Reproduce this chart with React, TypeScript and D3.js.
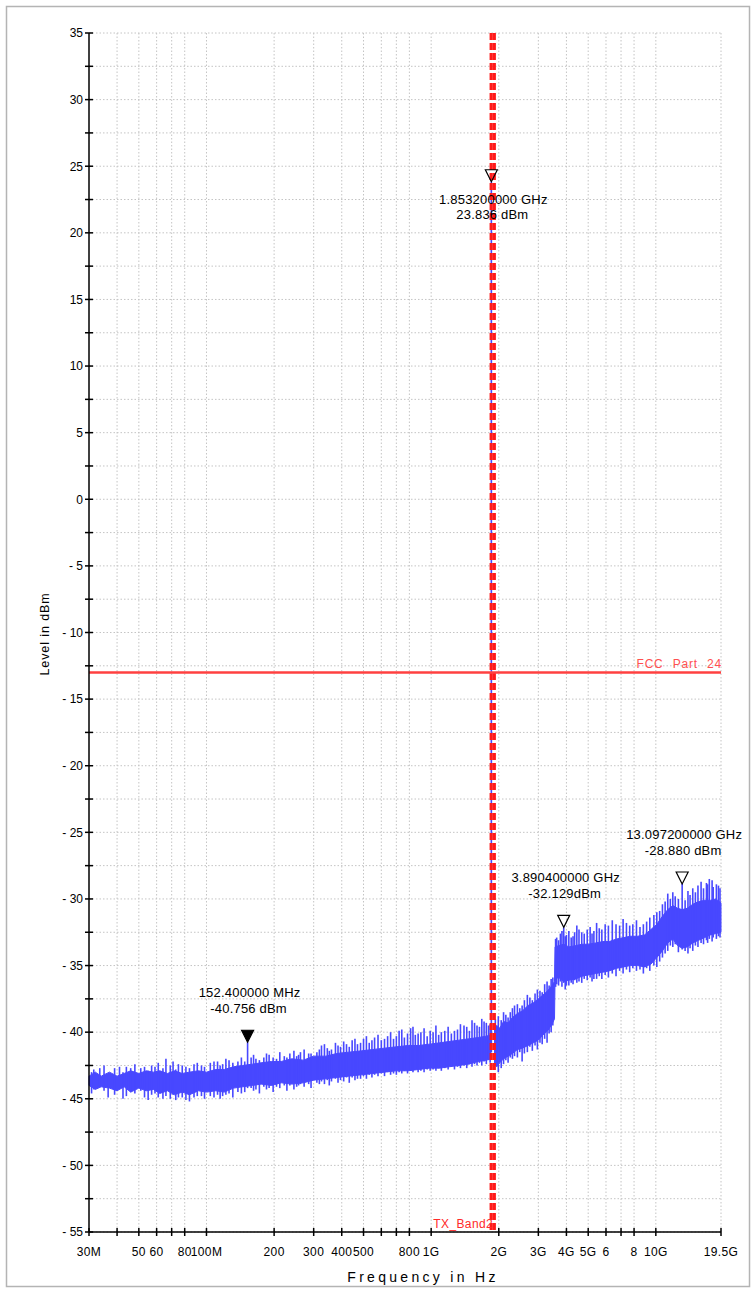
import React from "react";
import * as d3 from "d3";

// ---------- data ----------
const xTicksMHz = [30, 40, 50, 60, 70, 80, 100, 200, 300, 400, 500, 600, 700, 800, 1000, 2000, 3000, 4000, 5000, 6000, 7000, 8000, 10000, 19500];
const xTickLabels: Record<number, string> = {
  30: "30M", 50: "50", 60: "60", 80: "80", 100: "100M", 200: "200", 300: "300", 400: "400", 500: "500",
  800: "800", 1000: "1G", 2000: "2G", 3000: "3G", 4000: "4G", 5000: "5G", 6000: "6", 8000: "8", 10000: "10G", 19500: "19.5G",
};
const yMajorTicks = [35, 30, 25, 20, 15, 10, 5, 0, -5, -10, -15, -20, -25, -30, -35, -40, -45, -50, -55];

// trace body envelope: [MHz, high dBm, low dBm]
const bandBody: [number, number, number][] = [
  [30, -43.3, -44.0], [32, -43.0, -44.3], [34, -43.3, -44.1], [37, -43.0, -44.2], [40, -43.3, -44.4],
  [43, -43.1, -44.1], [46, -42.9, -44.5], [50, -43.1, -44.2], [54, -42.9, -44.4], [58, -43.0, -44.3],
  [62, -42.9, -44.6], [67, -43.1, -44.4], [72, -42.9, -44.7], [78, -43.1, -44.5], [84, -43.0, -44.7],
  [92, -42.9, -44.4], [100, -43.0, -44.5], [110, -42.8, -44.4], [120, -42.8, -44.5], [132, -42.6, -44.2],
  [145, -42.5, -44.1], [160, -42.4, -44.0], [175, -42.3, -43.9], [195, -42.2, -44.0], [215, -42.2, -43.8],
  [240, -42.0, -43.9], [270, -42.1, -43.8], [300, -41.8, -43.6], [340, -41.8, -43.5], [380, -41.6, -43.4],
  [430, -41.5, -43.3], [490, -41.4, -43.2], [550, -41.3, -43.1], [620, -41.2, -43.0], [700, -41.1, -42.9],
  [790, -41.0, -42.9], [880, -41.0, -42.8], [980, -40.9, -42.7], [1090, -40.8, -42.7], [1200, -40.7, -42.6],
  [1330, -40.6, -42.5], [1470, -40.5, -42.4], [1620, -40.4, -42.2], [1760, -40.3, -42.1], [1845, -40.2, -42.0],
  [1915, -39.6, -42.4], [1960, -39.5, -42.6], [2020, -39.7, -42.3], [2100, -39.2, -42.0], [2200, -39.3, -41.8],
  [2300, -38.9, -41.6], [2420, -38.6, -41.3], [2550, -38.4, -41.2], [2700, -38.0, -41.0], [2850, -37.8, -40.8],
  [3000, -37.5, -40.6], [3150, -37.2, -40.2], [3300, -36.9, -39.9], [3450, -36.5, -39.4], [3540, -36.2, -39.0],
  [3560, -33.6, -36.0], [3700, -33.5, -35.9], [3890, -33.4, -36.2], [4100, -33.6, -36.1], [4400, -33.5, -36.0],
  [4700, -33.4, -35.8], [5000, -33.4, -35.7], [5400, -33.3, -35.6], [5800, -33.2, -35.5], [6200, -33.2, -35.4],
  [6700, -33.0, -35.2], [7200, -32.9, -35.1], [7700, -32.8, -35.0], [8300, -32.8, -35.0], [8900, -32.7, -35.1],
  [9500, -32.3, -34.9], [10100, -31.9, -34.4], [10700, -31.3, -33.9], [11300, -30.8, -33.3], [11900, -30.5, -33.0],
  [12500, -30.7, -33.5], [13100, -30.8, -33.7], [13800, -30.7, -33.6], [14600, -30.4, -33.3], [15500, -30.2, -33.1],
  [16500, -30.1, -32.9], [17500, -30.1, -32.7], [18500, -30.0, -32.6], [19500, -30.3, -32.5],
];

// noise spikes: [MHz, top dBm, bottom dBm]
const spikes: [number, number, number][] = [
  [30.8, -43.0, -44.6], [31.5, -42.8, -44.3], [33.5, -42.7, -44.0], [35, -42.5, -44.4], [36.5, -43.2, -44.9],
  [39, -42.7, -44.7], [41, -42.6, -44.2], [42.5, -43.0, -45.0], [44, -42.6, -44.8], [46, -42.7, -44.5],
  [48, -42.4, -44.6], [51, -42.7, -44.4], [53, -42.6, -44.9], [55, -42.9, -45.1], [57, -42.5, -44.7],
  [59, -42.6, -44.6], [61, -42.3, -44.9], [64, -42.7, -45.0], [66, -42.0, -44.8], [69, -42.5, -45.0],
  [71, -42.2, -44.7], [73, -42.8, -45.1], [75, -42.4, -44.9], [78, -42.5, -44.9], [81, -42.6, -45.1],
  [84, -42.7, -45.2], [88, -42.4, -44.9], [91, -42.3, -44.8], [95, -42.5, -44.8], [98, -42.6, -45.0],
  [104, -42.3, -44.8], [108, -42.2, -44.9], [112, -42.2, -44.7], [115, -42.5, -45.0], [118, -42.4, -44.8],
  [122, -42.0, -44.7], [126, -42.1, -44.6], [131, -42.3, -44.9], [138, -42.2, -44.5], [143, -41.9, -44.6],
  [148, -42.2, -44.5], [152.4, -40.756, -44.2], [158, -41.9, -44.2], [162, -41.7, -44.4], [166, -42.0, -44.3],
  [172, -42.1, -44.6], [180, -41.9, -44.1], [185, -41.6, -44.3], [190, -41.7, -44.2], [198, -41.9, -44.5],
  [205, -42.0, -44.1], [212, -41.5, -44.2], [222, -41.8, -44.0], [228, -41.9, -44.4], [235, -41.6, -44.0],
  [245, -41.4, -44.3], [252, -41.8, -44.1], [257, -41.7, -44.0], [262, -41.5, -43.9], [272, -41.3, -44.1],
  [285, -41.6, -43.9], [292, -41.6, -44.2],
  [310, -41.5, -43.8], [318, -41.3, -43.9], [325, -41.0, -43.7], [335, -40.9, -43.9], [345, -41.2, -43.6],
  [352, -41.4, -44.0], [360, -41.3, -43.7], [375, -40.8, -43.5], [385, -41.0, -43.8], [395, -41.1, -43.6],
  [408, -40.7, -43.7], [420, -40.9, -43.4], [432, -41.1, -43.8], [445, -40.6, -43.4], [458, -40.5, -43.6],
  [470, -40.9, -43.5], [485, -40.8, -43.5], [500, -40.5, -43.3], [515, -40.3, -43.5], [530, -40.8, -43.2],
  [545, -40.6, -43.4], [560, -40.4, -43.2], [580, -40.2, -43.3], [600, -40.6, -43.1], [620, -40.5, -43.3],
  [640, -40.3, -43.0], [660, -40.0, -43.2], [680, -40.5, -43.1], [700, -40.3, -43.2], [720, -39.9, -43.0],
  [740, -39.8, -43.1], [760, -40.4, -42.9], [785, -40.1, -43.1], [810, -39.7, -42.9], [830, -39.6, -43.0],
  [850, -40.2, -42.8], [875, -40.1, -43.0], [900, -40.0, -42.9], [930, -39.7, -43.0], [960, -40.3, -42.8],
  [990, -39.9, -42.9], [1020, -40.0, -42.8], [1050, -39.5, -42.9], [1080, -40.2, -42.7], [1110, -40.0, -42.9],
  [1150, -39.9, -42.7], [1190, -39.6, -42.8], [1230, -40.1, -42.6], [1270, -39.9, -42.8], [1310, -39.8, -42.6],
  [1350, -39.4, -42.7], [1400, -39.5, -42.5], [1440, -39.6, -42.7], [1480, -39.9, -42.4], [1520, -39.1, -42.6],
  [1560, -39.3, -42.4], [1600, -39.5, -42.5], [1640, -39.6, -42.3], [1680, -39.0, -42.5], [1720, -39.2, -42.2],
  [1760, -39.3, -42.4], [1800, -39.5, -42.1], [1830, -39.4, -42.3],
  [1853.2, 23.836, -41.5],
  [1930, -39.0, -42.5], [1990, -38.8, -43.0], [2050, -39.1, -42.7], [2100, -38.5, -42.4], [2150, -38.7, -42.1],
  [2200, -38.9, -42.3], [2250, -38.5, -41.9], [2300, -38.2, -42.0], [2350, -38.0, -41.8], [2420, -37.9, -41.9],
  [2480, -38.2, -41.5], [2540, -38.0, -42.2], [2600, -37.6, -41.6], [2680, -37.2, -41.5], [2750, -37.4, -41.1],
  [2820, -37.6, -41.4], [2900, -37.1, -41.0], [2970, -36.8, -41.3], [3050, -36.9, -40.8], [3120, -37.0, -40.9],
  [3200, -36.4, -40.5], [3280, -36.2, -40.8], [3350, -36.5, -40.1], [3420, -36.0, -40.0], [3480, -35.9, -39.5],
  [3580, -33.0, -36.6], [3620, -32.9, -36.4], [3690, -33.1, -36.5], [3760, -32.6, -36.2], [3820, -32.4, -36.6],
  [3890.4, -32.129, -36.3], [3950, -32.8, -36.8], [4000, -32.7, -36.5], [4100, -32.4, -36.5], [4200, -32.9, -36.3],
  [4280, -32.8, -36.4], [4350, -32.5, -36.1], [4450, -32.0, -36.3], [4550, -32.3, -36.2], [4680, -32.5, -36.3],
  [4800, -32.6, -36.0], [4950, -32.3, -36.1], [5100, -32.1, -35.9], [5200, -32.6, -36.2], [5300, -32.4, -36.0],
  [5450, -31.8, -36.0], [5600, -32.2, -35.8], [5750, -32.3, -36.0], [5950, -31.9, -35.7], [6150, -32.0, -35.9],
  [6400, -31.6, -35.6], [6650, -31.9, -35.8], [6900, -32.0, -35.4], [7150, -31.5, -35.6], [7400, -31.8, -35.3],
  [7650, -32.0, -35.5], [7900, -31.9, -35.2], [8200, -31.6, -35.4], [8500, -32.1, -35.3], [8800, -31.9, -35.6],
  [9100, -31.7, -35.2], [9400, -31.4, -35.4], [9800, -31.2, -35.0], [10100, -31.0, -35.1], [10400, -30.9, -34.7],
  [10700, -30.4, -34.4], [11000, -30.2, -34.1], [11300, -29.6, -33.9], [11600, -30.0, -33.5], [11900, -29.5, -33.6],
  [12200, -29.8, -33.4], [12600, -30.0, -34.0], [13097.2, -28.88, -33.8], [13500, -30.1, -33.9], [13900, -29.4, -34.1],
  [14200, -29.7, -33.7], [14600, -29.2, -33.9], [15000, -29.5, -33.5], [15400, -29.0, -33.6], [15900, -28.7, -33.3],
  [16300, -29.2, -33.4], [16800, -28.8, -33.1], [17000, -28.9, -33.3], [17300, -28.5, -33.0], [17800, -28.6, -33.2],
  [18000, -29.1, -32.9], [18600, -28.9, -33.0], [19000, -29.0, -32.8], [19300, -29.2, -32.9],
];

// markers
const markers: { f: number; v: number; l1: string; l2: string; filled: boolean; above: boolean }[] = [
  { f: 1853.2, v: 23.836, l1: "1.853200000 GHz", l2: "23.836 dBm", filled: false, above: false },
  { f: 152.4, v: -40.756, l1: "152.400000 MHz", l2: "-40.756 dBm", filled: true, above: true },
  { f: 3890.4, v: -32.129, l1: "3.890400000 GHz", l2: "-32.129dBm", filled: false, above: true },
  { f: 13097.2, v: -28.88, l1: "13.097200000 GHz", l2: "-28.880 dBm", filled: false, above: true },
];

const limitLevel = -13;
const limitLabel = "FCC Part 24";
const txBandMHz = [1850, 1910];
const txBandLabel = "TX_Band2";

// ---------- layout ----------
const W = 752, H = 1289;
const L = 89, R = 721, T = 33, B = 1232;
const FONT = "'Liberation Sans', Arial, Helvetica, sans-serif";
const TRACE = "#4848ff";

export default function App() {
  const x = d3.scaleLog().domain([30, 19500]).range([L, R]);
  const y = d3.scaleLinear().domain([-55, 35]).range([B, T]);
  const gridY = d3.range(-55, 35.01, 2.5);

  const area = d3
    .area<[number, number, number]>()
    .x((d) => x(d[0]))
    .y0((d) => y(d[2]))
    .y1((d) => y(d[1]));

  return (
    <svg width={W} height={H} style={{ position: "absolute", left: 0, top: 0, display: "block", background: "#fff" }} fontFamily={FONT}>
      <rect x={6.5} y={6.5} width={743} height={1280} fill="#fff" stroke="#b4b4b4" strokeWidth={1.5} />
      {/* grid */}
      <g stroke="#c4c4c4" strokeWidth={1} strokeDasharray="1.5,2">
        {gridY.map((v) => (
          <line key={"gy" + v} x1={L} x2={R} y1={y(v)} y2={y(v)} />
        ))}
        {xTicksMHz.slice(1).map((f) => (
          <line key={"gx" + f} x1={x(f)} x2={x(f)} y1={T} y2={B} />
        ))}
      </g>
      {/* trace */}
      <path d={area(bandBody.filter((d) => d[0] < 1850)) || ""} fill={TRACE} stroke={TRACE} strokeWidth={1} />
      <path d={area(bandBody.filter((d) => d[0] > 1910)) || ""} fill={TRACE} stroke={TRACE} strokeWidth={1} />
      <g stroke={TRACE} strokeWidth={1.6}>
        {spikes.map((s, i) => (
          <line key={"s" + i} x1={x(s[0])} x2={x(s[0])} y1={y(s[1])} y2={y(s[2])} />
        ))}
      </g>
      {/* TX band */}
      <g stroke="#ff1a1a" strokeWidth={3.2} strokeDasharray="7,3">
        {txBandMHz.map((f) => (
          <line key={"tx" + f} x1={x(f)} x2={x(f)} y1={T} y2={B} />
        ))}
      </g>
      <text x={x(txBandMHz[0]) + 2} y={1228} fontSize={12} fill="#ff2a2a" textAnchor="end" letterSpacing={0.4}>
        {txBandLabel}
      </text>
      {/* limit line */}
      <line x1={L} x2={R} y1={y(limitLevel)} y2={y(limitLevel)} stroke="#ff4040" strokeWidth={2.5} />
      <text x={R + 1} y={y(limitLevel) - 4} fontSize={12} fill="#ff5050" textAnchor="end" letterSpacing={0.8} wordSpacing={5}>
        {limitLabel}
      </text>
      {/* axes */}
      <g stroke="#000" strokeWidth={1.5}>
        <line x1={L} x2={L} y1={T} y2={B} />
        <line x1={L} x2={R} y1={B} y2={B} />
        {gridY.map((v) => (
          <line key={"ty" + v} x1={L - 4} x2={L + 4} y1={y(v)} y2={y(v)} />
        ))}
        {xTicksMHz.map((f) => (
          <line key={"tx" + f} x1={x(f)} x2={x(f)} y1={B - 4} y2={B + 4} />
        ))}
      </g>
      <g fontSize={12} fill="#000" textAnchor="end">
        {yMajorTicks.map((v) => (
          <text key={"yl" + v} x={83} y={y(v) + 4.3}>
            {v < 0 ? "- " + Math.abs(v) : String(v)}
          </text>
        ))}
      </g>
      <g fontSize={12} fill="#000" textAnchor="middle" letterSpacing={0.4}>
        {xTicksMHz
          .filter((f) => xTickLabels[f] !== undefined)
          .map((f) => (
            <text key={"xl" + f} x={x(f)} y={1256}>
              {xTickLabels[f]}
            </text>
          ))}
      </g>
      <text x={423} y={1282} fontSize={14} textAnchor="middle" letterSpacing={3.3}>
        Frequency in Hz
      </text>
      <text transform="translate(49,634) rotate(-90)" fontSize={12.5} textAnchor="middle" letterSpacing={0.9}>
        Level in dBm
      </text>
      {/* markers */}
      {markers.map((m, i) => {
        const mx = x(m.f);
        const my = y(m.v);
        const tri = `M${mx},${my} L${mx - 6},${my - 12} L${mx + 6},${my - 12} Z`;
        const lines = m.above ? [my - 45, my - 29.5] : [my + 22.5, my + 37];
        return (
          <g key={"m" + i}>
            <path d={tri} fill={m.filled ? "#000" : "none"} stroke="#000" strokeWidth={1.2} />
            <g fontSize={13} textAnchor="middle" letterSpacing={0.2}>
              <text x={mx + 2} y={lines[0]}>{m.l1}</text>
              <text x={mx + 1} y={lines[1]}>{m.l2}</text>
            </g>
          </g>
        );
      })}
    </svg>
  );
}
